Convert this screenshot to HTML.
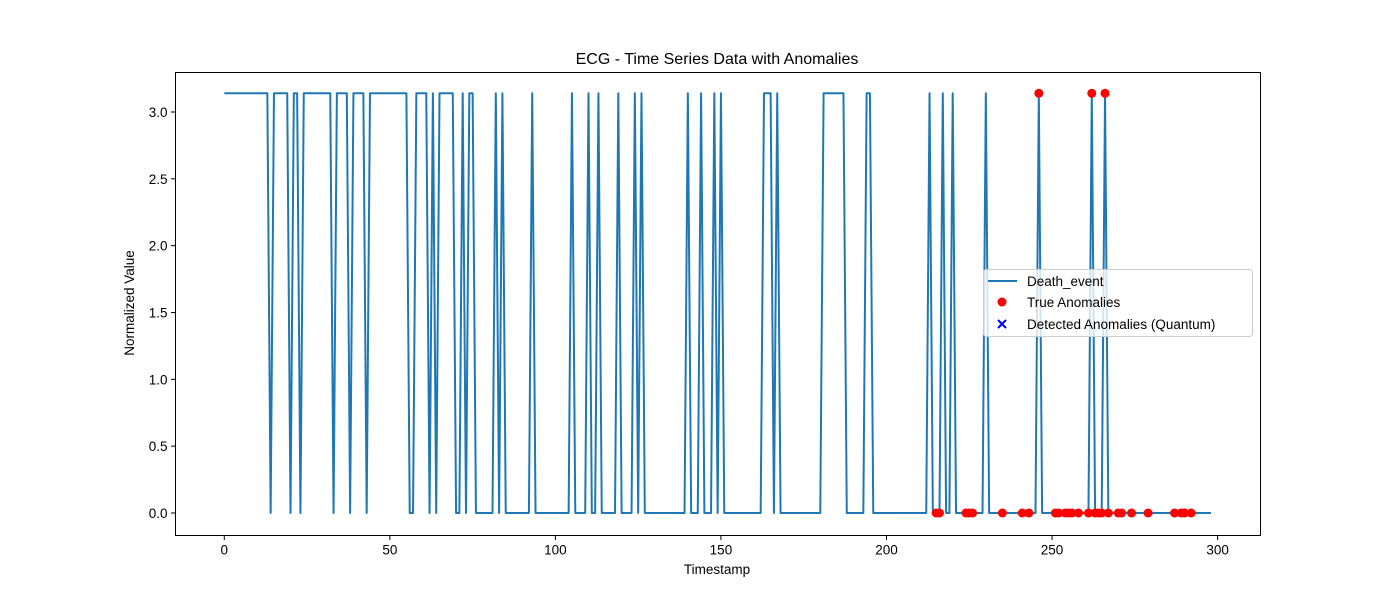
<!DOCTYPE html>
<html><head><meta charset="utf-8"><style>
html,body{margin:0;padding:0;background:#fff;}
svg{display:block;font-family:"Liberation Sans","DejaVu Sans",sans-serif;}
</style></head><body>
<svg id="chart" width="1400" height="600" viewBox="0 0 1400 600" xmlns="http://www.w3.org/2000/svg">
<rect x="0" y="0" width="1400" height="600" fill="#fff"/>
<text x="717" y="64" text-anchor="middle" font-size="16" fill="#000">ECG - Time Series Data with Anomalies</text>
<g id="plot"></g>
<text x="717" y="574" text-anchor="middle" font-size="13.5" fill="#000">Timestamp</text>
<text x="134" y="303" text-anchor="middle" font-size="13.5" fill="#000" transform="rotate(-90 134 303)">Normalized Value</text>
<g>
<rect x="983.5" y="269.5" width="269" height="67" rx="3" fill="#fff" fill-opacity="0.8" stroke="#ccc"/>
<line x1="988" y1="281" x2="1017" y2="281" stroke="#1f77b4" stroke-width="2"/>
<text x="1027" y="286" font-size="13.5">Death_event</text>
<circle cx="1002" cy="302" r="4.5" fill="red"/>
<text x="1027" y="307" font-size="13.5">True Anomalies</text>
<path d="M998 320 L1006 328 M1006 320 L998 328" stroke="blue" stroke-width="2"/>
<text x="1027" y="329" font-size="13.5">Detected Anomalies (Quantum)</text>
</g>
</svg>
<script>
const H = 3.14;
const deathEvent = [
H,H,H,H,H,H,H,H,H,H,
H,H,H,H,0,H,H,H,H,H,
0,H,H,0,H,H,H,H,H,H,
H,H,H,0,H,H,H,H,0,H,
H,H,H,0,H,H,H,H,H,H,
H,H,H,H,H,H,0,0,H,H,
H,H,0,H,0,H,H,H,H,H,
0,0,H,0,H,H,0,0,0,0,
0,0,H,0,H,0,0,0,0,0,
0,0,0,H,0,0,0,0,0,0,
0,0,0,0,0,H,0,0,0,0,
H,0,0,H,0,0,0,0,0,H,
0,0,0,0,H,0,H,0,0,0,
0,0,0,0,0,0,0,0,0,0,
H,0,0,0,H,0,0,0,H,0,
H,0,0,0,0,0,0,0,0,0,
0,0,0,H,H,H,0,H,0,0,
0,0,0,0,0,0,0,0,0,0,
0,H,H,H,H,H,H,H,0,0,
0,0,0,0,H,H,0,0,0,0,
0,0,0,0,0,0,0,0,0,0,
0,0,0,H,0,0,0,H,0,0,
H,0,0,0,0,0,0,0,0,0,
H,0,0,0,0,0,0,0,0,0,
0,0,0,0,0,0,H,0,0,0,
0,0,0,0,0,0,0,0,0,0,
0,0,H,0,0,0,H,0,0,0,
0,0,0,0,0,0,0,0,0,0,
0,0,0,0,0,0,0,0,0,0,
0,0,0,0,0,0,0,0,0
];
const trueAnomalyX = [215,216,224,225,226,235,241,243,246,251,252,254,255,256,258,261,262,263,264,265,266,267,270,271,274,279,287,289,290,292];
const trueAnomalyY = [0,0,0,0,0,0,0,0,H,0,0,0,0,0,0,0,H,0,0,0,H,0,0,0,0,0,0,0,0,0];
const xTicks = [0,50,100,150,200,250,300];
const yTicks = [0,0.5,1.0,1.5,2.0,2.5,3.0];
const yTickLabels = ["0.0","0.5","1.0","1.5","2.0","2.5","3.0"];

const NS = "http://www.w3.org/2000/svg";
const L = 175.5, R = 1260.5, T = 72.5, B = 535.5;
const xs = t => 224.3 + t * 3.311;
const ys = v => 513 - v * 133.67;
const plot = document.getElementById('plot');
function mk(tag, attrs) {
  const e = document.createElementNS(NS, tag);
  for (const k in attrs) e.setAttribute(k, attrs[k]);
  return e;
}
let d = '';
deathEvent.forEach((v, i) => { d += (i ? 'L' : 'M') + xs(i).toFixed(2) + ' ' + ys(v).toFixed(2); });
const line = mk('path', {d: d, fill: 'none', stroke: '#1f77b4', 'stroke-width': 2, 'stroke-linejoin': 'round'});


plot.appendChild(line);
trueAnomalyX.forEach((t, i) => {
  const c = mk('circle', {cx: xs(t), cy: ys(trueAnomalyY[i]), r: 4.5, fill: 'red'});
  
  
  plot.appendChild(c);
});
const frame = mk('rect', {x: L, y: T, width: R - L, height: B - T, fill: 'none', stroke: '#000', 'stroke-width': 1});


plot.appendChild(frame);
xTicks.forEach(t => {
  const x = xs(t);
  const tk = mk('line', {x1: x, y1: B, x2: x, y2: B + 4.5, stroke: '#000'});
  
  
  plot.appendChild(tk);
  const lb = mk('text', {x: x, y: B + 19, 'text-anchor': 'middle', 'font-size': 13.5});
  lb.textContent = String(t);
  
  
  plot.appendChild(lb);
});
yTicks.forEach((v, i) => {
  const y = ys(v);
  const tk = mk('line', {x1: L - 4.5, y1: y, x2: L, y2: y, stroke: '#000'});
  
  
  plot.appendChild(tk);
  const lb = mk('text', {x: L - 8, y: y + 5, 'text-anchor': 'end', 'font-size': 13.5});
  lb.textContent = yTickLabels[i];
  
  
  plot.appendChild(lb);
});
</script>
</body></html>
